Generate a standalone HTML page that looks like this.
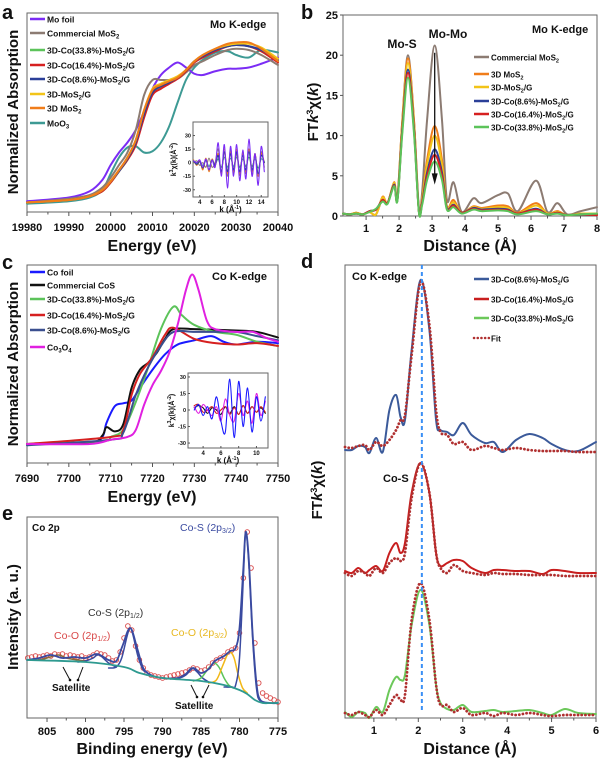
<!DOCTYPE html>
<html><head><meta charset="utf-8"><style>
html,body{margin:0;padding:0;background:#fff;}
svg{display:block;font-family:"Liberation Sans",sans-serif;font-weight:bold;}
</style></head><body>
<svg id="chart" width="600" height="760" viewBox="0 0 600 760"></svg>
<script>
// ---------- Panel a data ----------
const aX = [19980,19990,19995,19998,20000,20002,20004,20006,20008,20010,20012,20014,20016,20018,20020,20022,20025,20028,20030,20033,20036,20040];
const aMoFoil = [0.03,0.06,0.11,0.2,0.32,0.42,0.5,0.6,0.75,0.93,1.04,1.1,1.14,1.1,1.05,1.04,1.07,1.09,1.09,1.1,1.13,1.18];
const aCommercial = [0.02,0.05,0.08,0.14,0.22,0.32,0.42,0.6,0.88,1.0,1.0,1.0,1.01,1.06,1.12,1.15,1.2,1.24,1.25,1.24,1.2,1.12];
const aCo338 = [0.02,0.04,0.07,0.11,0.18,0.27,0.36,0.49,0.72,0.89,0.94,0.98,1.02,1.08,1.15,1.19,1.24,1.27,1.28,1.27,1.23,1.15];
const aCo164 = [0.02,0.04,0.07,0.11,0.18,0.27,0.36,0.48,0.7,0.88,0.93,0.97,1.01,1.07,1.14,1.18,1.23,1.27,1.28,1.27,1.23,1.14];
const aCo86 = [0.02,0.04,0.07,0.12,0.19,0.27,0.37,0.5,0.73,0.9,0.95,0.98,1.02,1.08,1.15,1.19,1.24,1.27,1.28,1.27,1.24,1.16];
const aMoS2G = [0.02,0.04,0.07,0.12,0.19,0.28,0.38,0.52,0.76,0.93,0.97,1.0,1.03,1.08,1.15,1.2,1.25,1.28,1.29,1.29,1.26,1.17];
const a3DMoS2 = [0.02,0.04,0.07,0.12,0.19,0.28,0.38,0.52,0.76,0.92,0.96,0.99,1.02,1.08,1.15,1.2,1.25,1.29,1.3,1.3,1.25,1.15];
const aMoO3 = [0.01,0.03,0.06,0.12,0.25,0.38,0.46,0.47,0.42,0.43,0.5,0.63,0.82,1.0,1.1,1.16,1.22,1.23,1.2,1.18,1.24,1.22];
const aTicks = [19980,19990,20000,20010,20020,20030,20040];
const aInK = [3,3.5,4,4.5,5,5.5,6,6.5,7,7.5,8,8.5,9,9.5,10,10.5,11,11.5,12,12.5,13,13.5,14,14.5];
const aInFoil = [2,0,3,-5,4,-8,3,-5,22,-15,20,-28,18,-15,20,-20,14,-18,26,-15,10,-25,18,-10];
const aInBrown = [0,2,-3,0,-5,5,-5,0,15,-10,12,-15,15,-12,10,-14,12,-12,15,-14,10,-15,12,-5];
const aInOrange = [3,-3,2,-8,5,-10,4,-4,10,-12,15,-12,12,-10,15,-12,10,-10,15,-10,10,-15,10,0];
const aInBlue = [2,-2,1,-6,3,-8,3,-3,8,-10,12,-10,10,-8,12,-10,8,-8,12,-8,8,-12,8,0];
const aInTeal = [1,-1,2,-3,2,-4,2,-2,4,-5,6,-5,5,-4,6,-5,4,-4,6,-4,4,-6,4,1];
// ---------- Panel b data ----------
const bX = [0.3,0.5,0.7,0.9,1.1,1.3,1.5,1.65,1.85,1.95,2.1,2.27,2.45,2.6,2.7,2.85,3.08,3.3,3.45,3.65,3.9,4.25,4.5,5.0,5.3,5.6,6.15,6.5,6.8,7.1,7.5,8];
const bCommercial = [0.3,0.2,0.4,0.2,0.5,0.2,2.2,1.6,4.0,2.2,12,20,12,1,3,12,21.2,12,2,4.2,0.5,2.2,1.6,2.6,2.8,0.6,4.4,0.5,1.6,0.2,0.6,1.1];
const b3DMoS2 = [0.3,0.2,0.4,0.2,0.5,0.2,2.4,1.6,4.2,2.2,12,19.6,12,0.6,2.2,7,11.2,7,1.2,2.0,0.4,1.2,1.0,1.3,1.2,0.4,1.6,0.3,0.6,0.1,0.3,0.3];
const bMoS2G = [0.3,0.2,0.4,0.2,0.5,0.2,2.3,1.6,4.1,2.1,11.6,19.0,11.6,0.6,2.0,6.4,10.0,6.4,1.1,1.7,0.4,1.1,0.9,1.1,1.0,0.3,1.3,0.3,0.5,0.1,0.3,0.3];
const bCo86 = [0.3,0.2,0.3,0.2,0.6,0.8,2.0,1.6,3.9,2.0,11,18.2,11,0.6,1.7,5.4,8.3,5.4,1.0,1.4,0.4,1.0,0.8,0.9,0.8,0.3,0.9,0.2,0.4,0.1,0.2,0.2];
const bCo164 = [0.3,0.2,0.3,0.2,0.6,0.8,2.0,1.6,3.8,2.0,10.8,17.8,10.8,0.6,1.6,5.0,7.6,5.0,0.9,1.3,0.4,0.9,0.7,0.8,0.7,0.3,0.8,0.2,0.4,0.1,0.2,0.1];
const bCo338 = [0.3,0.2,0.3,0.2,0.5,0.9,1.8,1.5,3.7,1.9,10.4,17.2,10.4,0.5,1.4,4.5,6.8,4.5,0.8,1.1,0.3,0.8,0.6,0.7,0.6,0.2,0.6,0.2,0.3,0.1,0.2,0.3];
const bXTicks = [1,2,3,4,5,6,7,8];
const bYTicks = [0,5,10,15,20,25];
// ---------- Panel c data ----------
const cFoilX = [7690,7705,7708,7709,7711,7713,7715,7717,7720,7723,7726,7730,7734,7737,7740,7745,7750];
const cFoil = [0,0.01,0.05,0.15,0.27,0.29,0.31,0.4,0.53,0.64,0.71,0.74,0.77,0.73,0.71,0.73,0.72];
const cCoSX = [7690,7705,7708,7709,7711,7713,7715,7717,7719,7721,7723,7725,7730,7740,7745,7750];
const cCoS = [0,0.01,0.06,0.12,0.09,0.14,0.4,0.53,0.58,0.65,0.75,0.82,0.82,0.81,0.8,0.76];
const cGreenX = [7690,7708,7710,7713,7716,7719,7722,7725,7727,7730,7735,7740,7745,7750];
const cGreen = [0,0.02,0.05,0.1,0.3,0.55,0.82,0.98,0.92,0.85,0.8,0.78,0.73,0.7];
const cRedX = [7690,7710,7713,7715,7717,7720,7723,7725,7730,7735,7740,7745,7750];
const cRed = [0,0.05,0.1,0.35,0.5,0.62,0.78,0.83,0.75,0.72,0.71,0.72,0.7];
const cBlueX = [7690,7710,7713,7716,7719,7722,7725,7730,7735,7740,7745,7750];
const cBlue = [-0.01,0.03,0.08,0.35,0.55,0.7,0.8,0.8,0.8,0.8,0.77,0.74];
const cCo3O4X = [7690,7705,7710,7714,7716,7718,7720,7722,7724,7726,7728,7729.5,7731,7733,7735,7740,7744,7747,7750];
const cCo3O4 = [0,0,0.03,0.05,0.1,0.28,0.42,0.52,0.65,0.85,1.1,1.21,1.1,0.88,0.82,0.8,0.8,0.76,0.73];
const cTicks = [7690,7700,7710,7720,7730,7740,7750];
const cInK = [3,3.5,4,4.5,5,5.5,6,6.5,7,7.5,8,8.5,9,9.5,10,10.5,11];
const cInFoil = [0,5,-5,3,-8,12,-10,-20,28,-25,26,-15,20,-20,12,-10,12];
const cInCo3O4 = [3,-3,5,0,-5,3,-10,10,-5,-10,15,-5,8,-12,15,-5,8];
const cInCoS = [2,4,2,-3,2,0,-4,3,-3,3,-4,4,-3,3,-2,2,-3];
const cInRed = [4,5,-2,0,3,-3,0,3,-4,2,-4,4,-3,3,-2,3,-2];
// ---------- Panel d data ----------
const dX = [0.35,0.5,0.65,0.8,0.9,1.05,1.2,1.35,1.5,1.6,1.7,1.85,2.05,2.25,2.4,2.5,2.65,2.8,3.0,3.2,3.5,3.7,3.9,4.2,4.5,4.8,5.0,5.3,5.6,6.0];
const dBlue = [0,0,0.04,0.03,-0.03,0.12,-0.02,0.4,0.55,0.33,0.3,1.0,1.7,1.2,0.3,0.2,0.18,0.15,0.27,0.15,0.07,0.08,-0.02,0.1,0.16,0.12,0.06,0,-0.01,0.08];
const dBlueFit = [0.03,0.02,0.04,0.05,0,0.08,0.04,0.1,0.2,0.3,0.35,0.95,1.68,1.25,0.4,0.18,0.15,0.06,0.08,0,0.04,0.02,0,0.02,0,-0.01,-0.01,-0.01,-0.02,-0.02];
const dRed = [0.02,0,0.05,0,0.03,0.07,0.02,0.2,0.3,0.2,0.3,0.8,1.1,0.8,0.2,0.07,0.1,0.13,0.12,0.05,0,0.03,0.03,0.02,0.02,-0.01,0.03,0.02,0,0];
const dRedFit = [0,-0.03,0.02,0,-0.03,0.05,0,0.1,0.15,0.12,0.2,0.75,1.1,0.8,0.2,0.05,0,0.08,0.02,0,-0.02,0,-0.01,-0.01,-0.02,-0.02,-0.02,-0.03,-0.03,-0.03];
const dGreen = [0.03,-0.02,0.03,0.02,-0.03,0.08,0.03,0.25,0.38,0.35,0.4,0.9,1.25,0.9,0.3,0.12,0.06,0.05,0.1,0.03,0.04,0.05,0.03,0.04,0.05,0.02,0,0.06,0.02,0.01];
const dGreenFit = [0.02,0,0.03,0,-0.02,0.05,0,0.1,0.2,0.15,0.2,0.95,1.32,0.95,0.3,0.1,0.1,0.03,0.07,0,0.02,-0.01,0.02,0,0.02,0,-0.01,0,0,0];
const dTicks = [1,2,3,4,5,6];
// ---------- Panel e data ----------
const eDataX = [807.5,807,806.5,806,805.5,805,804.5,804,803.5,803,802.5,802,801.5,801,800.5,800,799.5,799,798.5,798,797.5,797,796.5,796,795.5,795,794.5,794,793.5,793,792.5,792,791.5,791,790.5,790,789.5,789,788.5,788,787.5,787,786.5,786,785.5,785,784.5,784,783.5,783,782.5,782,781.5,781,780.5,780,779.5,779,778.5,778,777.5,777,776.5,776,775.5,775];
const eData = [60,61,62,61,62,63,62,64,63,64,62,63,62,61,62,60,61,63,65,64,63,60,57,58,66,80,92,88,72,58,50,45,43,42,41,40,41,42,43,44,45,46,48,50,49,47,48,51,55,58,60,62,66,68,70,85,140,186,150,75,35,25,22,20,18,16];
const eEnvX = [807.6,806,804.5,803,801.5,800,798.5,797,796,795.2,794.2,793.3,792.5,791.5,790,788,787,786,785,784,783.2,782,781.2,780.5,780,779.5,779.2,778.8,778.3,777.8,777.3,776,775];
const eEnv = [58,60,63,60,61,60,64,58,57,72,90,70,50,43,40,40,43,50,45,49,57,62,67,70,90,150,186,160,85,35,18,15,15];
const eBgX = [807.6,800,795,793,790,785,782,780,779,778,777,776,775];
const eBg = [58,56,51,45,40,37,33,28,24,18,15,15,15];
const eCoS32X = [782,781,780.5,780,779.5,779.2,778.8,778.3,777.8,777.3,776];
const eCoS32 = [31,31,33,60,140,186,155,80,30,17,15];
const eCoO32X = [784,783,782.2,781.6,781.2,780.7,780.2,779.6,779];
const eCoO32 = [35,38,52,63,66,60,44,30,25];
const eGreenX = [786,785,784.2,783.5,783.2,782.6,782,781.4,780.8];
const eGreen = [37,40,48,54,55,50,40,33,30];
const eSat1X = [789,788,787,786.2,785.5,784.8,784];
const eSat1 = [39,40,44,50,46,40,36];
const eCoS12X = [797,796,795.3,794.6,794.2,793.8,793.2,792.5,792];
const eCoS12 = [50,51,60,82,90,82,62,48,46];
const eSat2X = [807.6,806,805,803.5,802.5,801,800];
const eSat2 = [58,58,60,63,60,58,57];
const eSat3X = [801,800,799,798.5,798,797,796];
const eSat3 = [56,57,60,63,62,55,51];
const eTicks = [805,800,795,790,785,780,775];

// ---------- helpers ----------
const NS = 'http://www.w3.org/2000/svg';
const svg = document.getElementById('chart');
function mk(tag, attrs, name, parent) {
  const e = document.createElementNS(NS, tag);
  for (const k in attrs) e.setAttribute(k, attrs[k]);
  
  
  (parent || svg).appendChild(e);
  return e;
}
function scale(d0, d1, r0, r1) { return v => r0 + (v - d0) * (r1 - r0) / (d1 - d0); }
function smoothPath(pts) {
  let d = 'M' + pts[0][0].toFixed(2) + ',' + pts[0][1].toFixed(2);
  for (let i = 0; i < pts.length - 1; i++) {
    const p0 = pts[i - 1] || pts[i], p1 = pts[i], p2 = pts[i + 1], p3 = pts[i + 2] || p2;
    const c1 = [p1[0] + (p2[0] - p0[0]) / 6, p1[1] + (p2[1] - p0[1]) / 6];
    const c2 = [p2[0] - (p3[0] - p1[0]) / 6, p2[1] - (p3[1] - p1[1]) / 6];
    d += 'C' + c1[0].toFixed(2) + ',' + c1[1].toFixed(2) + ' ' + c2[0].toFixed(2) + ',' + c2[1].toFixed(2) + ' ' + p2[0].toFixed(2) + ',' + p2[1].toFixed(2);
  }
  return d;
}
function series(xs, ys, sx, sy, color, w, name, extra, offset) {
  const off = offset || 0;
  const pts = xs.map((x, i) => [sx(x), sy(ys[i] + off)]);
  const a = Object.assign({d: smoothPath(pts), fill: 'none', stroke: color, 'stroke-width': w, 'stroke-linejoin': 'round', 'stroke-linecap': 'round'}, extra || {});
  return mk('path', a, name);
}
function txt(x, y, html, size, name, extra) {
  const a = Object.assign({x: x, y: y, 'font-size': size, fill: '#111'}, extra || {});
  const t = mk('text', a, name);
  t.innerHTML = html;
  return t;
}
function frame(x0, y0, x1, y1, name) {
  return mk('rect', {x: x0, y: y0, width: x1 - x0, height: y1 - y0, fill: 'none', stroke: '#666', 'stroke-width': 1}, name);
}
function xTicks(ticks, sx, yb, ly, size, name, minor) {
  ticks.forEach((t, i) => {
    mk('line', {x1: sx(t), x2: sx(t), y1: yb, y2: yb + 4, stroke: '#555', 'stroke-width': 1}, name + '-tick');
    txt(sx(t), ly, String(t), size, name + '-label', {'text-anchor': 'middle'});
    if (minor && i < ticks.length - 1) {
      const m = (t + ticks[i + 1]) / 2;
      mk('line', {x1: sx(m), x2: sx(m), y1: yb, y2: yb + 2.5, stroke: '#555', 'stroke-width': 1}, name + '-minor-tick');
    }
  });
}
function legendRow(x, y, color, html, size, name, dash) {
  const a = {x1: x, x2: x + 15, y1: y, y2: y, stroke: color, 'stroke-width': 2.5};
  if (dash) { a['stroke-dasharray'] = dash; a['stroke-linecap'] = 'round'; }
  mk('line', a, name + '-swatch');
  txt(x + 17, y + 3.5, html, size, name);
}
const sub = s => '<tspan font-size="0.7em" baseline-shift="-25%">' + s + '</tspan>';
function ylabel(x, y, html, size, name) {
  return txt(0, 0, html, size, name, {'text-anchor': 'middle', transform: 'translate(' + x + ',' + y + ') rotate(-90)'});
}
function inset(x0, y0, x1, y1, kd, yd, kTicks, data, name, lblX) {
  frame(x0, y0, x1, y1, name + '-frame');
  const sx = scale(kd[0], kd[1], x0, x1), sy = scale(yd[0], yd[1], y1, y0);
  [-30, -15, 0, 15, 30].forEach(v => {
    mk('line', {x1: x0, x2: x0 + 2, y1: sy(v), y2: sy(v), stroke: '#555'}, name + '-ytick');
    txt(x0 - 2, sy(v) + 2, String(v), 5.5, name + '-ytick-label', {'text-anchor': 'end'});
  });
  kTicks.forEach(k => {
    mk('line', {x1: sx(k), x2: sx(k), y1: y1, y2: y1 - 2, stroke: '#555'}, name + '-xtick');
    txt(sx(k), y1 + 7, String(k), 6, name + '-xtick-label', {'text-anchor': 'middle'});
  });
  txt((x0 + x1) / 2, y1 + 15, 'k (Å<tspan font-size="5" baseline-shift="super">-1</tspan>)', 8, name + '-x-title', {'text-anchor': 'middle'});
  ylabel(lblX, (y0 + y1) / 2, 'k<tspan font-size="5" baseline-shift="super">3</tspan>χ(k)(Å<tspan font-size="5" baseline-shift="super">-2</tspan>)', 7, name + '-y-title');
  data.forEach(s => series(s[0], s[1], sx, sy, s[2], 1.1, name + '-' + s[3]));
}
const yTitleFT = 'FT<tspan font-style="italic">k</tspan><tspan font-size="9" baseline-shift="super">3</tspan>χ(<tspan font-style="italic">k</tspan>)';

// ---------- Panel a ----------
(function () {
  const x0 = 27, x1 = 278, y0 = 13, y1 = 212;
  const sx = scale(19980, 20040, x0, x1), sy = scale(-0.056, 1.536, y1, y0);
  frame(x0, y0, x1, y1, 'panel-a-frame');
  xTicks(aTicks, sx, y1, 231, 11, 'panel-a-x', true);
  txt(152, 251, 'Energy (eV)', 16, 'panel-a-x-title', {'text-anchor': 'middle'});
  ylabel(18, 112, 'Normalized Absorption', 15, 'panel-a-y-title');
  txt(2, 19, 'a', 20, 'panel-a-letter');
  series(aX, aMoO3, sx, sy, '#3d9a94', 2, 'series-moo3');
  series(aX, aMoFoil, sx, sy, '#7b2cf5', 2, 'series-mo-foil');
  series(aX, aCommercial, sx, sy, '#8c7b72', 2, 'series-commercial-mos2');
  series(aX, aCo338, sx, sy, '#5cc35a', 2, 'series-co-33-8');
  series(aX, aCo164, sx, sy, '#d62020', 2, 'series-co-16-4');
  series(aX, aCo86, sx, sy, '#2b3f98', 2, 'series-co-8-6');
  series(aX, aMoS2G, sx, sy, '#f2c418', 2, 'series-3d-mos2-g');
  series(aX, a3DMoS2, sx, sy, '#f07d1a', 2, 'series-3d-mos2');
  txt(210, 28, 'Mo K-edge', 11, 'panel-a-edge-label');
  const L = [['#7b2cf5', 'Mo foil'], ['#8c7b72', 'Commercial MoS' + sub('2')], ['#5cc35a', '3D-Co(33.8%)-MoS' + sub('2') + '/G'], ['#d62020', '3D-Co(16.4%)-MoS' + sub('2') + '/G'], ['#2b3f98', '3D-Co(8.6%)-MoS' + sub('2') + '/G'], ['#f2c418', '3D-MoS' + sub('2') + '/G'], ['#f07d1a', '3D MoS' + sub('2')], ['#3d9a94', 'MoO' + sub('3')]];
  const ly = [19, 33, 50, 65, 79, 94, 108, 123];
  L.forEach((l, i) => legendRow(30, ly[i], l[0], l[1], 8.5, 'panel-a-legend-entry'));
  inset(193, 122, 268, 197, [2.9, 15.1], [-38, 45], [4, 6, 8, 10, 12, 14],
    [[aInK, aInTeal, '#3d9a94', 'moo3'], [aInK, aInBrown, '#8c7b72', 'commercial'], [aInK, aInOrange, '#f07d1a', '3d-mos2'], [aInK, aInBlue, '#2b3f98', 'co'], [aInK, aInFoil, '#7b2cf5', 'mo-foil']], 'panel-a-inset', 176);
})();

// ---------- Panel b ----------
(function () {
  const x0 = 343, x1 = 597, y0 = 15, y1 = 216;
  const sx = scale(0.3, 8, x0, x1), sy = scale(0, 25, y1, y0);
  frame(x0, y0, x1, y1, 'panel-b-frame');
  xTicks(bXTicks, sx, y1, 232, 11, 'panel-b-x', true);
  bYTicks.forEach(v => {
    mk('line', {x1: x0 - 3, x2: x0, y1: sy(v), y2: sy(v), stroke: '#555'}, 'panel-b-y-tick');
    txt(x0 - 5, sy(v) + 4, String(v), 11, 'panel-b-y-label', {'text-anchor': 'end'});
  });
  txt(470, 251, 'Distance (Å)', 16, 'panel-b-x-title', {'text-anchor': 'middle'});
  ylabel(318, 112, yTitleFT, 15, 'panel-b-y-title');
  txt(301, 19, 'b', 20, 'panel-b-letter');
  series(bX, bCommercial, sx, sy, '#8c7b72', 2, 'series-b-commercial');
  series(bX, b3DMoS2, sx, sy, '#f07d1a', 2, 'series-b-3d-mos2');
  series(bX, bMoS2G, sx, sy, '#f2c418', 2, 'series-b-3d-mos2-g');
  series(bX, bCo86, sx, sy, '#2b3f98', 2, 'series-b-co-8-6');
  series(bX, bCo164, sx, sy, '#d62020', 2, 'series-b-co-16-4');
  series(bX, bCo338, sx, sy, '#5cc35a', 2, 'series-b-co-33-8');
  mk('line', {x1: sx(3.08), x2: sx(3.08), y1: sy(20.3), y2: sy(5), stroke: '#111', 'stroke-width': 1.3}, 'panel-b-arrow-line');
  mk('path', {d: 'M' + (sx(3.08) - 3) + ',' + sy(5.3) + 'L' + (sx(3.08) + 3) + ',' + sy(5.3) + 'L' + sx(3.08) + ',' + sy(3.9) + 'Z', fill: '#111'}, 'panel-b-arrow-head');
  txt(402, 48, 'Mo-S', 12, 'panel-b-mo-s-label', {'text-anchor': 'middle'});
  txt(448, 38, 'Mo-Mo', 12, 'panel-b-mo-mo-label', {'text-anchor': 'middle'});
  txt(532, 33, 'Mo K-edge', 11, 'panel-b-edge-label');
  const L = [['#8c7b72', 'Commercial MoS' + sub('2')], ['#f07d1a', '3D MoS' + sub('2')], ['#f2c418', '3D-MoS' + sub('2') + '/G'], ['#2b3f98', '3D-Co(8.6%)-MoS' + sub('2') + '/G'], ['#d62020', '3D-Co(16.4%)-MoS' + sub('2') + '/G'], ['#5cc35a', '3D-Co(33.8%)-MoS' + sub('2') + '/G']];
  const ly = [57, 74, 87, 101, 114, 127];
  L.forEach((l, i) => legendRow(474, ly[i], l[0], l[1], 8, 'panel-b-legend-entry'));
})();

// ---------- Panel c ----------
(function () {
  const x0 = 27, x1 = 278, y0 = 265, y1 = 463;
  const sx = scale(7690, 7750, x0, x1), sy = scale(-0.136, 1.278, y1, y0);
  frame(x0, y0, x1, y1, 'panel-c-frame');
  xTicks(cTicks, sx, y1, 482, 11, 'panel-c-x', true);
  txt(152, 502, 'Energy (eV)', 16, 'panel-c-x-title', {'text-anchor': 'middle'});
  ylabel(18, 364, 'Normalized Absorption', 15, 'panel-c-y-title');
  txt(2, 269, 'c', 20, 'panel-c-letter');
  series(cFoilX, cFoil, sx, sy, '#1a1aff', 2, 'series-co-foil');
  series(cCoSX, cCoS, sx, sy, '#111', 2, 'series-commercial-cos');
  series(cGreenX, cGreen, sx, sy, '#5cc35a', 2, 'series-c-co-33-8');
  series(cRedX, cRed, sx, sy, '#d62020', 2, 'series-c-co-16-4');
  series(cBlueX, cBlue, sx, sy, '#3b4f8f', 2, 'series-c-co-8-6');
  series(cCo3O4X, cCo3O4, sx, sy, '#e020e0', 2, 'series-co3o4');
  txt(212, 280, 'Co K-edge', 11, 'panel-c-edge-label');
  const L = [['#1a1aff', 'Co foil'], ['#111', 'Commercial CoS'], ['#5cc35a', '3D-Co(33.8%)-MoS' + sub('2') + '/G'], ['#d62020', '3D-Co(16.4%)-MoS' + sub('2') + '/G'], ['#3b4f8f', '3D-Co(8.6%)-MoS' + sub('2') + '/G'], ['#e020e0', 'Co' + sub('3') + 'O' + sub('4')]];
  const ly = [272, 285, 299, 315, 330, 347];
  L.forEach((l, i) => legendRow(30, ly[i], l[0], l[1], 8.5, 'panel-c-legend-entry'));
  inset(188, 373, 268, 448, [2.3, 11.3], [-34.5, 33.6], [4, 6, 8, 10],
    [[cInK, cInCoS, '#111', 'cos'], [cInK, cInRed, '#d62020', 'co-16-4'], [cInK, cInCo3O4, '#e020e0', 'co3o4'], [cInK, cInFoil, '#1a1aff', 'co-foil']], 'panel-c-inset', 174);
})();

// ---------- Panel d ----------
(function () {
  const x0 = 345, x1 = 596, y0 = 265, y1 = 718;
  const sx = scale(0.35, 6, x0, x1), sy = scale(0, 4.53, y1, y0);
  const offBlue = 2.68, offRed = 1.45, offGreen = 0.03;
  const dots = {'stroke-dasharray': '0.1,3.6', 'stroke-width': 2.8};
  frame(x0, y0, x1, y1, 'panel-d-frame');
  xTicks(dTicks, sx, y1, 734, 11, 'panel-d-x', true);
  txt(470, 754, 'Distance (Å)', 16, 'panel-d-x-title', {'text-anchor': 'middle'});
  ylabel(322, 490, yTitleFT, 15, 'panel-d-y-title');
  txt(301, 268, 'd', 20, 'panel-d-letter');
  series(dX, dBlue, sx, sy, '#3b5a9a', 2, 'series-d-co-8-6', null, offBlue);
  series(dX, dBlueFit, sx, sy, '#b03030', 2.8, 'series-d-fit-8-6', dots, offBlue);
  series(dX, dRed, sx, sy, '#c81e1e', 2, 'series-d-co-16-4', null, offRed);
  series(dX, dRedFit, sx, sy, '#b03030', 2.8, 'series-d-fit-16-4', dots, offRed);
  series(dX, dGreen, sx, sy, '#6cc85a', 2, 'series-d-co-33-8', null, offGreen);
  series(dX, dGreenFit, sx, sy, '#b03030', 2.8, 'series-d-fit-33-8', dots, offGreen);
  mk('line', {x1: sx(2.08), x2: sx(2.08), y1: y0, y2: y1 - 6, stroke: '#3a8ff5', 'stroke-width': 2, 'stroke-dasharray': '4,3'}, 'panel-d-reference-line');
  txt(352, 280, 'Co K-edge', 11, 'panel-d-edge-label');
  txt(383, 482, 'Co-S', 11, 'panel-d-co-s-label');
  const L = [['#3b5a9a', '3D-Co(8.6%)-MoS' + sub('2') + '/G'], ['#c81e1e', '3D-Co(16.4%)-MoS' + sub('2') + '/G'], ['#6cc85a', '3D-Co(33.8%)-MoS' + sub('2') + '/G'], ['#b03030', 'Fit']];
  const ly = [279, 299, 318, 338];
  L.forEach((l, i) => legendRow(474, ly[i], l[0], l[1], 8, 'panel-d-legend-entry', i === 3 ? '0.1,3.6' : null));
})();

// ---------- Panel e ----------
(function () {
  const x0 = 27, x1 = 278, y0 = 517, y1 = 718;
  const sx = scale(807.6, 775, x0, x1), sy = scale(0, 201, y1, y0);
  frame(x0, y0, x1, y1, 'panel-e-frame');
  xTicks(eTicks, sx, y1, 735, 11, 'panel-e-x', true);
  txt(152, 754, 'Binding energy (eV)', 16, 'panel-e-x-title', {'text-anchor': 'middle'});
  ylabel(18, 617, 'Intensity (a. u.)', 15, 'panel-e-y-title');
  txt(2, 520, 'e', 20, 'panel-e-letter');
  eDataX.forEach((x, i) => {
    mk('circle', {cx: sx(x), cy: sy(eData[i]), r: 2.3, fill: 'none', stroke: '#d94848', 'stroke-width': 0.9}, 'panel-e-data-point');
  });
  series(eSat2X, eSat2, sx, sy, '#8a6a3a', 1.5, 'series-e-satellite-left');
  series(eSat3X, eSat3, sx, sy, '#3a4aa0', 1.5, 'series-e-satellite-mid');
  series(eCoS12X, eCoS12, sx, sy, '#3a4aa0', 1.5, 'series-e-co-s-2p12');
  series(eSat1X, eSat1, sx, sy, '#3a4aa0', 1.5, 'series-e-satellite-right');
  series(eGreenX, eGreen, sx, sy, '#5cc35a', 1.5, 'series-e-green-component');
  series(eCoO32X, eCoO32, sx, sy, '#f2b818', 1.5, 'series-e-co-o-2p32');
  series(eCoS32X, eCoS32, sx, sy, '#3a4aa0', 1.5, 'series-e-co-s-2p32');
  series(eEnvX, eEnv, sx, sy, '#3a4aa0', 1.8, 'series-e-envelope');
  series(eBgX, eBg, sx, sy, '#2e9a90', 1.8, 'series-e-background');
  txt(32, 531, 'Co 2p', 10, 'panel-e-title-label');
  txt(180, 531, 'Co-S (2p<tspan font-size="7" baseline-shift="-25%">3/2</tspan>)', 10.5, 'panel-e-co-s-32-label', {fill: '#3a4aa0', 'font-weight': 'normal'});
  txt(88, 616, 'Co-S (2p<tspan font-size="7" baseline-shift="-25%">1/2</tspan>)', 10.5, 'panel-e-co-s-12-label', {fill: '#333', 'font-weight': 'normal'});
  txt(54, 639, 'Co-O (2p<tspan font-size="7" baseline-shift="-25%">1/2</tspan>)', 10.5, 'panel-e-co-o-12-label', {fill: '#d94848', 'font-weight': 'normal'});
  txt(171, 636, 'Co-O (2p<tspan font-size="7" baseline-shift="-25%">3/2</tspan>)', 10.5, 'panel-e-co-o-32-label', {fill: '#e8b820', 'font-weight': 'normal'});
  txt(52, 691, 'Satellite', 10, 'panel-e-satellite-left-label');
  txt(175, 709, 'Satellite', 10, 'panel-e-satellite-right-label');
  [[63, 667, 70, 680], [83, 667, 78, 680], [191, 685, 197, 697], [209, 685, 203, 697]].forEach(a => {
    mk('line', {x1: a[0], y1: a[1], x2: a[2], y2: a[3], stroke: '#111', 'stroke-width': 1}, 'panel-e-satellite-arrow');
    mk('circle', {cx: a[2], cy: a[3], r: 1.3, fill: '#111'}, 'panel-e-satellite-arrow-head');
  });
})();
</script>
</body></html>
